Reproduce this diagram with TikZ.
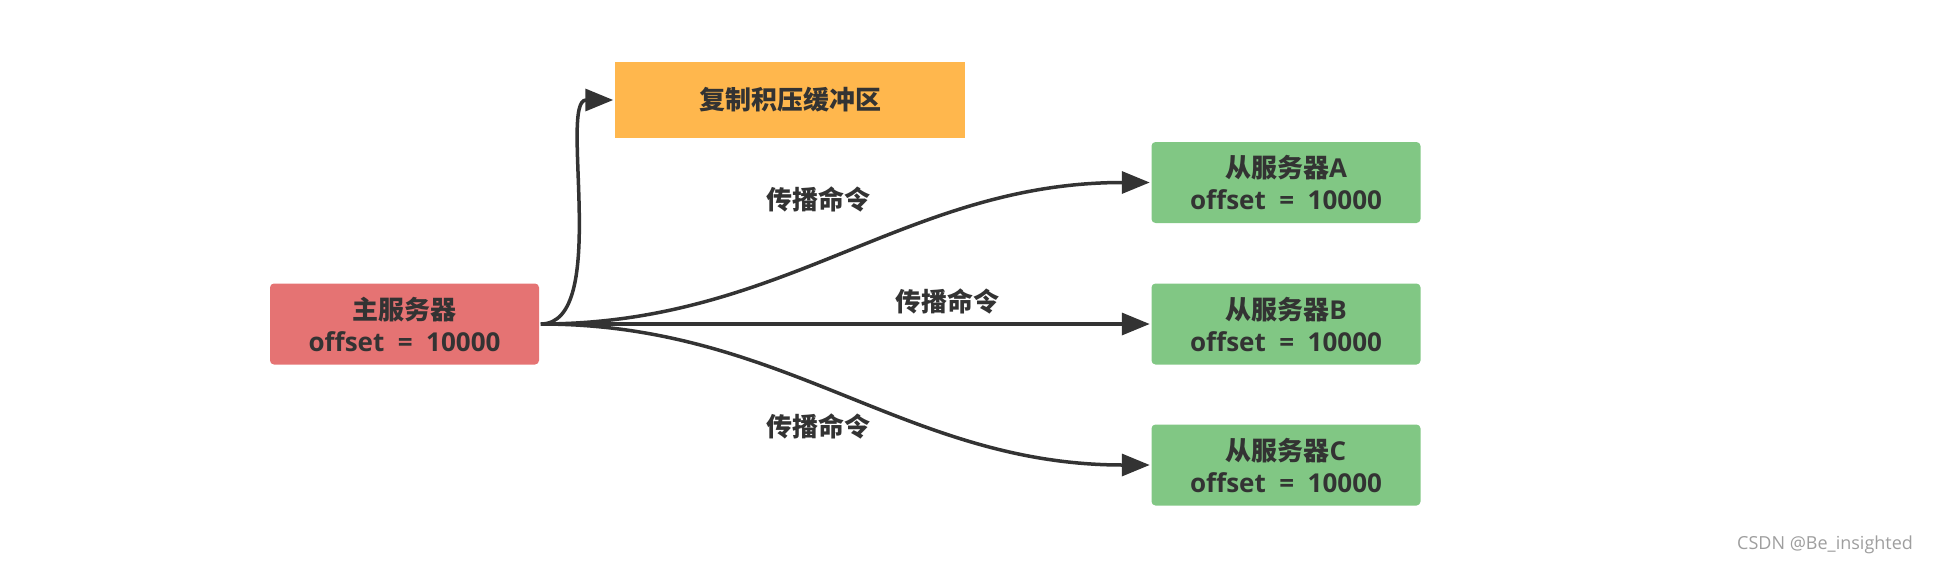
\documentclass[tikz,border=0pt]{standalone}
\usepackage{fontspec}
\setmainfont{Open Sans}[WordSpace=2]
\newfontfamily\cjk{Noto Sans CJK SC}
\newfontfamily\markfont{Open Sans}
\usetikzlibrary{arrows.meta,positioning}
\definecolor{masterred}{HTML}{E57373}
\definecolor{bufferorange}{HTML}{FFB74D}
\definecolor{slavegreen}{HTML}{81C784}
\definecolor{darkline}{HTML}{333333}
\definecolor{marksgray}{HTML}{9E9E9E}

\begin{document}
\begin{tikzpicture}[x=1pt,y=-1pt,->,>={Triangle[length=28pt,width=22pt]},line width=3.5pt,draw=darkline,
  server/.style={rounded corners=4pt,minimum width=269pt,minimum height=81pt,inner sep=0pt,align=center,text=darkline,font=\fontsize{26}{32}\selectfont\bfseries},
  cmd label/.style={text=darkline,font=\fontsize{26}{32}\selectfont\bfseries\cjk}]
  \useasboundingbox (0,0) rectangle (1934,568);

  \node[server,fill=masterred] (master) at (404.5,324) {{\cjk 主服务器}\\offset = 10000};
  \node[server,fill=bufferorange,rounded corners=0pt,minimum width=350pt,minimum height=76pt] (buffer) at (790,100) {\cjk 复制积压缓冲区};
  \node[server,fill=slavegreen] (slaveA) at (1286,182.5) {{\cjk 从服务器}A\\offset = 10000};
  \node[server,fill=slavegreen] (slaveB) at (1286,324) {{\cjk 从服务器}B\\offset = 10000};
  \node[server,fill=slavegreen] (slaveC) at (1286,465) {{\cjk 从服务器}C\\offset = 10000};

  \node[cmd label] (cmdA) at (818,199) {传播命令};
  \node[cmd label] (cmdB) at (947,301) {传播命令};
  \node[cmd label] (cmdC) at (818,426) {传播命令};

  \draw (master.east) .. controls +(70,0) and +(-55,0) .. (buffer.west);
  \draw (master.east) to[out=0,in=180] (slaveA.west);
  \draw (master.east) -- (slaveB.west);
  \draw (master.east) to[out=0,in=180] (slaveC.west);

  \node[text=marksgray,font=\fontsize{18}{22}\selectfont\markfont,anchor=east] (mark) at (1918,545) {CSDN @Be\_insighted};
\end{tikzpicture}
\end{document}
